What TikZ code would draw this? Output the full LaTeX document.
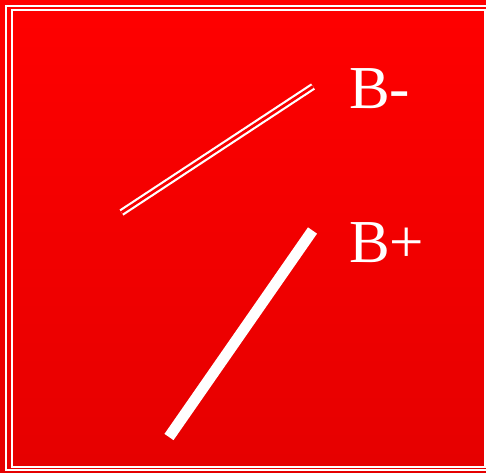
\documentclass[tikz,border=0pt]{standalone}
\usepackage{fontspec}
\setmainfont{Liberation Serif}
\usetikzlibrary{positioning}

\begin{document}
\begin{tikzpicture}[x=1pt, y=-1pt, every node/.style={font=\fontsize{61}{63}\selectfont, text=white, inner sep=0pt, anchor=base west}, frame/.style={draw=white, line width=2pt}, bminus/.style={draw=white, double=red!97!black, line width=2.2pt, double distance=2.8pt}, bplus/.style={draw=white, line width=11pt}]
\shade[top color=red, bottom color=red!90!black] (0,0) rectangle (486,472);
\useasboundingbox (0,0) rectangle (486,472);
\draw[frame] (6,6) rectangle (492,470);
\draw[frame] (11.7,9.5) rectangle (485,467);
\coordinate (m1) at (121.5,212.5);
\coordinate (m2) at (313,86.5);
\coordinate (p1) at (169,437);
\coordinate (p2) at (312.5,230.5);
\draw[bminus] (m1) -- (m2);
\draw[bplus] (p1) -- (p2);
\node (bm) at (349,108) {B-};
\node (bp) at (349,262) {B+};
\end{tikzpicture}
\end{document}
